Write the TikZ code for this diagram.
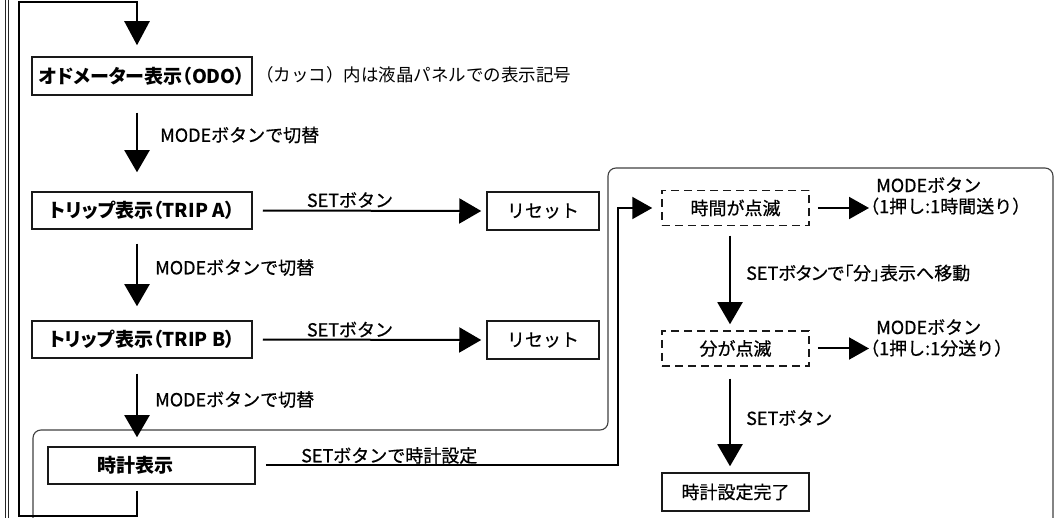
\documentclass[tikz,border=0pt]{standalone}
\usepackage{fontspec}
\newfontfamily\jp[FakeBold=0.6]{Noto Sans CJK JP}
\newfontfamily\jpp[FakeBold=0.6,RawFeature=+palt]{Noto Sans CJK JP}
\newfontfamily\jpb[RawFeature=+palt]{Noto Sans CJK JP}
\newfontfamily\jpn{Noto Sans CJK JP}
\usetikzlibrary{arrows.meta,calc}
\begin{document}
\begin{tikzpicture}[x=1pt,y=-1pt,
  every node/.style={font=\jp\fontsize{18}{21}\selectfont, inner sep=0pt, text=black},
  box/.style={draw=black!90, line width=1.5pt, minimum height=37pt, align=center},
  bbox/.style={box, font=\jpb\bfseries\fontsize{19}{21}\selectfont},
  dbox/.style={box, dash pattern=on 8pt off 5pt, minimum height=35pt},
  arr/.style={line width=2pt, -{Triangle[length=22pt,width=25pt]}},
  sarr/.style={line width=2pt, -{Triangle[length=20pt,width=22pt]}},
  loopline/.style={line width=2.4pt, line join=miter},
  outline/.style={line width=1.1pt, draw=black!75, rounded corners=8pt},
  thin/.style={line width=0.9pt, draw=black!85},
  lbl/.style={anchor=west}]
\useasboundingbox (0,0) rectangle (1061,518);

% thin double border lines on the left
\draw[thin] (5.8,0) -- (5.8,518);
\draw[thin] (8.7,0) -- (8.7,518);

% rounded outline of the clock-setting area
\draw[outline] (33,518) -- (33,430) -- (608,430) -- (608,168) -- (1053,168) -- (1053,518);

% nodes
\node[bbox, minimum width=220pt, minimum height=38pt] (odo) at (142,76) {オドメーター表示（ODO）};
\node[bbox, minimum width=220pt] (tripa) at (142,210.5) {トリップ表示（TRIP A）};
\node[bbox, minimum width=220pt] (tripb) at (142,339.5) {トリップ表示（TRIP B）};
\node[bbox, minimum width=207pt] (clock) at (151.5,465.5) {\makebox[207pt][l]{\hspace*{50pt}時計表示}};
\node[box, minimum width=112pt, minimum height=38pt] (reseta) at (543,211) {リセット};
\node[box, minimum width=112pt, minimum height=38pt] (resetb) at (543,340) {リセット};
\node[dbox, minimum width=147pt] (hour) at (735.5,208) {時間が点滅};
\node[dbox, minimum width=147pt] (minute) at (735.5,348.5) {分が点滅};
\node[box, minimum width=147pt, minimum height=38pt] (done) at (735.5,492) {時計設定完了};

\node[lbl, font=\jpn\fontsize{17.5}{21}\selectfont] (note) at (256,75) {（カッコ）内は液晶パネルでの表示記号};

\node[lbl, align=left] (hmode) at (876,196) {MODEボタン\\\hspace*{-15pt}（1押し:1時間送り）};
\node[lbl, align=left] (mmode) at (876,338) {MODEボタン\\\hspace*{-15pt}（1押し:1分送り）};

% labels
\node[lbl] (l1) at (160,135) {MODEボタンで切替};
\node[lbl] (l2) at (155,267.5) {MODEボタンで切替};
\node[lbl] (l3) at (155,399.5) {MODEボタンで切替};
\node (s1) at (350,200) {SETボタン};
\node (s2) at (350,329.5) {SETボタン};
\node[lbl] (s3) at (301,455.5) {SETボタンで時計設定};
\node[lbl, font=\jpp\fontsize{18}{21}\selectfont] (s4) at (746,273) {SETボタンで「分」表示へ移動};
\node[lbl] (s5) at (746,418) {SETボタン};

% coordinates for vertical connector lines
\coordinate (ax) at (137,0);
\coordinate (bx) at (730,0);
\coordinate (turn) at (618,0);

% return loop
\draw[loopline, -{Triangle[length=24pt,width=25pt]}, shorten <=6pt, shorten >=11pt]
  (clock.south -| ax) -- ++(0,31) -| (19,2) -| (odo.north -| ax);

% vertical MODE arrows
\draw[arr, shorten <=17pt, shorten >=19pt] (odo.south -| ax) -- (tripa.north -| ax);
\draw[arr, shorten <=14pt, shorten >=14pt] (tripa.south -| ax) -- (tripb.north -| ax);
\draw[arr, shorten <=15pt, shorten >=9pt] (tripb.south -| ax) -- (clock.north -| ax);

% SET arrows
\draw[arr, shorten <=10pt, shorten >=5pt] (tripa.east) -- (reseta.west);
\draw[arr, shorten <=10pt, shorten >=5pt] (tripb.east) -- (resetb.west);
\draw[sarr, shorten <=10pt, shorten >=9pt, line join=miter] (clock.east) -- (clock.east -| turn) |- (hour.west);

% right side
\draw[sarr, shorten <=8pt, shorten >=7pt] (hour.east) -- (hour.east -| hmode.west);
\draw[sarr, shorten <=8pt, shorten >=7pt] (minute.east) -- (minute.east -| mmode.west);
\draw[arr, shorten <=9.5pt, shorten >=6pt] (hour.south -| bx) -- (minute.north -| bx);
\draw[arr, shorten <=12pt, shorten >=6pt] (minute.south -| bx) -- (done.north -| bx);
\end{tikzpicture}
\end{document}
